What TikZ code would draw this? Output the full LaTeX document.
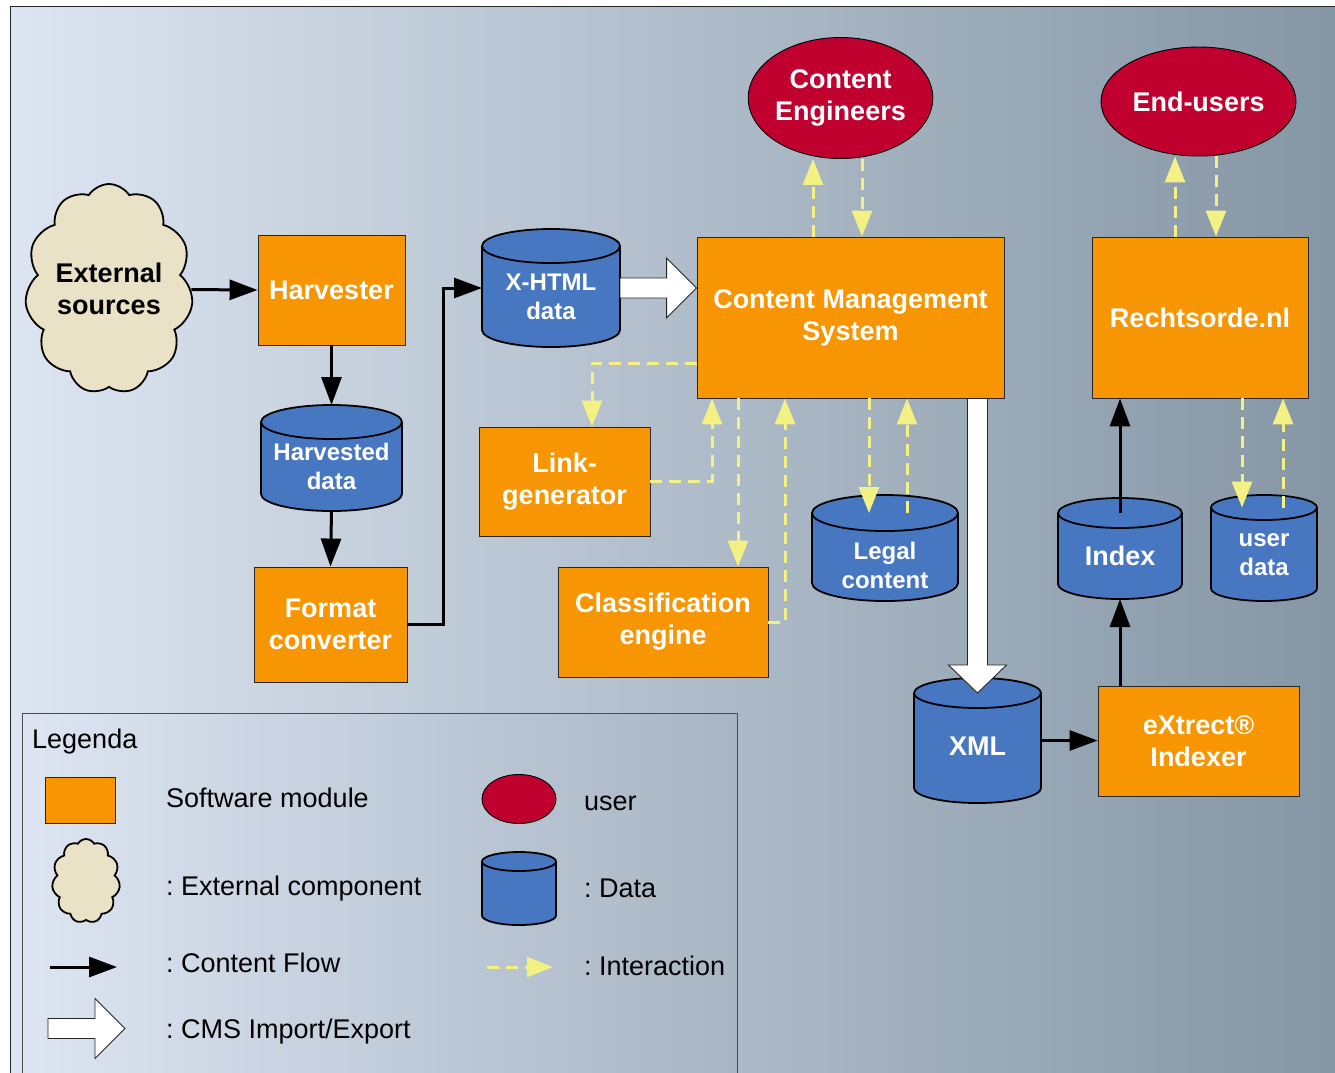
\documentclass[tikz,border=0pt]{standalone}
\usepackage{fontspec}
\setmainfont{Liberation Sans}
\usetikzlibrary{shapes.geometric,shapes.symbols,arrows.meta,calc}
\definecolor{bgL}{HTML}{DDE5F2}
\definecolor{bgR}{HTML}{8495A3}
\definecolor{lgR}{HTML}{A8B5C3}
\definecolor{orangeM}{HTML}{F79502}
\definecolor{blueD}{HTML}{4877C1}
\definecolor{redU}{HTML}{C0002E}
\definecolor{cloudF}{HTML}{EAE2C6}
\definecolor{yelI}{HTML}{F3F084}
\frenchspacing
\newcommand\dbcyl[8]{%
  \pgfmathsetmacro\cyx{(#2+#4)/2}%
  \pgfmathsetmacro\cyy{(#3+#5)/2}%
  \pgfmathsetmacro\cyw{#4-#2}%
  \pgfmathsetmacro\cyh{#5-#3}%
  \pgfmathsetmacro\cyrx{(#4-#2)/2}%
  \pgfmathsetmacro\cyry{#6/2}%
  \pgfmathsetmacro\cyty{(#3+#6/2+#5)/2+#7}%
  \node[minimum width=\cyw pt, minimum height=\cyh pt, inner sep=0pt, outer sep=0pt] (#1) at (\cyx,\cyy) {};
  \filldraw[cylstyle] (#2,#3+\cyry) -- (#2,#5-\cyry) arc (180:0:\cyrx\space and \cyry) -- (#4,#3+\cyry) arc (0:-180:\cyrx\space and \cyry) -- cycle;
  \draw[cylstyle, fill=none] (#2,#3+\cyry) arc (180:0:\cyrx\space and \cyry);
  \coordinate (#1-top) at (\cyx,#3+\cyry);
  \node[cyltext] (#1-label) at (\cyx,\cyty) {#8};
}
\newcommand\hwarrow[2]{%
  \filldraw[warrow] let \p1=(#1), \p2=(#2) in
    (\x1,\y1+10pt) -- (\x2-30pt,\y1+10pt) -- (\x2-30pt,\y1+30pt) -- (\x2,\y1)
    -- (\x2-30pt,\y1-30pt) -- (\x2-30pt,\y1-10pt) -- (\x1,\y1-10pt) -- cycle;
}
\begin{document}
\begin{tikzpicture}[x=1pt,y=-1pt,
  module/.style={draw=black!85, line width=0.9pt, fill=orangeM, text=white,
    font=\fontsize{27}{32}\selectfont\bfseries, align=center, inner sep=0pt},
  user/.style={ellipse, draw=black, line width=0.9pt, fill=redU, text=white,
    font=\fontsize{27}{32}\selectfont\bfseries, align=center, inner sep=0pt},
  cylstyle/.style={draw=black, line width=1.8pt, fill=blueD},
  cyltext/.style={text=white, font=\fontsize{24}{29}\selectfont\bfseries, align=center, inner sep=0pt},
  cloudnode/.style={cloud, cloud ignores aspect, draw=black, line width=1.8pt, fill=cloudF,
    inner sep=0pt, align=center},
  flow/.style={draw=black, line width=3pt, -{Triangle[length=28pt,width=20pt]}},
  inter/.style={draw=yelI, line width=3pt, dash pattern=on 12pt off 7pt,
    -{Triangle[length=26pt,width=20pt]}},
  warrow/.style={draw=black!85, line width=0.9pt, fill=white},
  legtext/.style={anchor=base west, font=\fontsize{27}{32}\selectfont, inner sep=0pt}
]
\useasboundingbox (0,0) rectangle (1335,1072);
\clip (0,0) rectangle (1335,1072);
% background
\draw[draw=black!85, line width=1pt, left color=bgL, right color=bgR] (10,6) rectangle (1345,1085);

% nodes
\node[cloudnode, cloud puffs=11, cloud puff arc=115, minimum width=168pt, minimum height=210pt,
  font=\fontsize{27}{32}\selectfont\bfseries] (ext) at (109,289) {External\\sources};
\node[module, minimum width=147pt, minimum height=110pt] (harv) at (331.5,290) {Harvester};
\dbcyl{hdata}{261}{405}{402}{511}{34}{0}{Harvested\\data}
\node[module, minimum width=153pt, minimum height=115pt] (fconv) at (330.5,624.5) {Format\\converter};
\dbcyl{xhtml}{482}{229}{620}{347}{34}{0}{X-HTML\\data}
\node[module, minimum width=307pt, minimum height=161pt] (cms) at (850.5,317.5) {Content Management\\System};
\node[user, minimum width=182pt, minimum height=121pt] (ce) at (840.5,98) {Content\\Engineers};
\node[user, minimum width=195pt, minimum height=109pt] (eu) at (1198.5,101.5) {End-users};
\node[module, minimum width=216pt, minimum height=161pt] (rechts) at (1200,317.5) {Rechtsorde.nl};
\node[module, minimum width=171pt, minimum height=109pt] (link) at (564.5,481.5) {Link-\\generator};
\node[module, minimum width=210pt, minimum height=110pt] (class) at (663,622) {Classification\\engine};
\dbcyl{legal}{812}{495}{958}{601}{36}{8}{Legal\\content}
\dbcyl{xml}{914}{678}{1041}{803}{30}{-2}{\fontsize{27}{32}\selectfont XML}
\node[module, minimum width=201pt, minimum height=110pt] (extr) at (1198.5,741) {eXtrect®\\Indexer};
\dbcyl{index}{1058}{498}{1182}{599}{30}{0}{\fontsize{27}{32}\selectfont Index}
\dbcyl{ud}{1211}{495}{1317}{601}{25}{0}{user\\data}

% content flow
\draw[flow] (ext) -- (harv.west);
\draw[flow] (harv.south) -- (hdata.north);
\draw[flow] (hdata.south) -- (fconv.north);
\draw[flow] (fconv.east) -- ++(36,0) |- (xhtml.west);
\draw[flow] (xml.east) -- (xml.east -| extr.west);
\draw[flow] (index.south |- extr.north) -- (index.south);
\draw[flow] (index-top) -- (index-top |- rechts.south);

% CMS import/export
\hwarrow{xhtml.east}{cms.west}
\filldraw[warrow] let \p1=($(xml.north |- cms.south)$), \p2=(xml-top) in
  (\x1-10pt,\y1) -- (\x1-10pt,\y2+28pt) -- (\x1-29pt,\y2+28pt) -- (\x1,\y2)
  -- (\x1+29pt,\y2+28pt) -- (\x1+10pt,\y2+28pt) -- (\x1+10pt,\y1) -- cycle;

% interaction
\draw[inter] ([xshift=-37.5pt]cms.north) -- ([xshift=-37.5pt]cms.north |- ce.south);
\draw[inter] ([xshift=11.5pt]cms.north |- ce.south) -- ([xshift=11.5pt]cms.north);
\draw[inter] ([xshift=-25pt]rechts.north) -- ([xshift=-25pt]rechts.north |- eu.south);
\draw[inter] ([xshift=16pt]rechts.north |- eu.south) -- ([xshift=16pt]rechts.north);
\draw[inter] ([yshift=-45.5pt]cms.west) -| ([xshift=27.5pt]link.north);
\draw[inter] (link.east) -| ([xshift=-138.5pt]cms.south);
\draw[inter] ([xshift=-112.5pt]cms.south) -- ([xshift=-112.5pt]cms.south |- class.north);
\draw[inter] (class.east) -| ([xshift=-65.5pt]cms.south);
\draw[inter] ([xshift=18.5pt]cms.south) -- ([xshift=18.5pt]cms.south |- legal-top);
\draw[inter] ([xshift=56.5pt]cms.south |- legal-top) -- ([xshift=56.5pt]cms.south);
\draw[inter] ([xshift=42pt]rechts.south) -- ([xshift=42pt]rechts.south |- ud-top);
\draw[inter] ([xshift=83pt]rechts.south |- ud-top) -- ([xshift=83pt]rechts.south);

% legend
\draw[draw=black!70, line width=0.9pt, left color=bgL, right color=lgR] (22,713) rectangle (737,1085);
\node[legtext] (lgtitle) at (32,748) {Legenda};
\node[module, minimum width=70pt, minimum height=46pt] (lgmod) at (80.5,800) {};
\node[legtext] (lgmodt) at (166,807) {Software module};
\node[cloudnode, cloud puffs=11, cloud puff arc=120, minimum width=68pt, minimum height=84pt] (lgcloud) at (86,881) {};
\node[legtext] (lgcloudt) at (166,895) {: External component};
\coordinate (lgf1) at (50,967);
\coordinate (lgf2) at (117,967);
\draw[flow] (lgf1) -- (lgf2);
\node[legtext] (lgflowt) at (166,972) {: Content Flow};
\coordinate (lgw1) at (48,1028.5);
\coordinate (lgw2) at (125,1028.5);
\hwarrow{lgw1}{lgw2}
\node[legtext] (lgwt) at (166,1038) {: CMS Import/Export};
\node[user, minimum width=74pt, minimum height=49pt] (lguser) at (519,799) {};
\node[legtext] (lgusert) at (584,810) {user};
\dbcyl{lgcyl}{482}{852}{556}{925}{19}{0}{}
\node[legtext] (lgcylt) at (584,897) {: Data};
\coordinate (lgi1) at (487,967);
\coordinate (lgi2) at (553,967);
\draw[inter] (lgi1) -- (lgi2);
\node[legtext] (lgintt) at (584,975) {: Interaction};
\end{tikzpicture}
\end{document}
